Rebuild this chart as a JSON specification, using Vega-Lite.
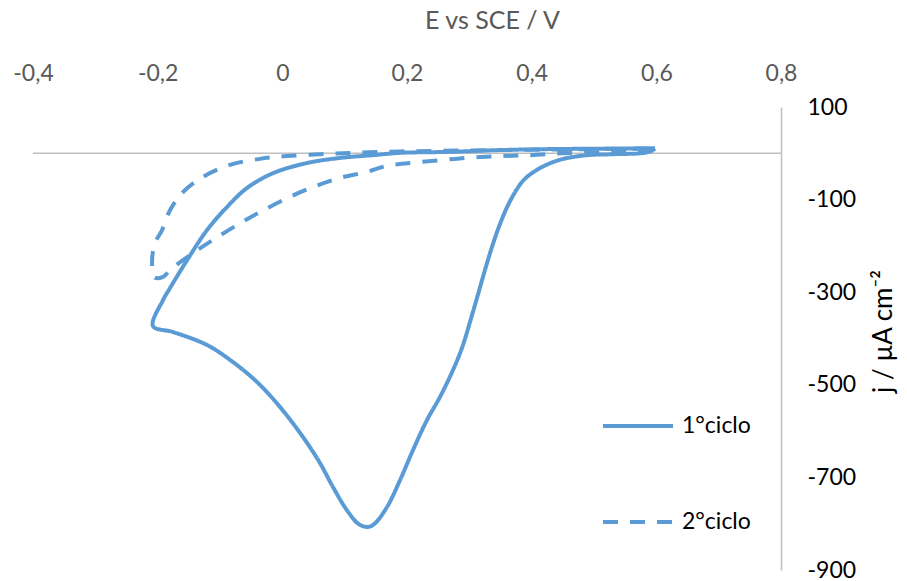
{
  "$schema": "https://vega.github.io/schema/vega-lite/v6.json",
  "width": 748,
  "height": 463,
  "autosize": {"type": "none"},
  "padding": {"left": 33, "top": 107, "right": 126, "bottom": 11},
  "background": "white",
  "config": {"view": {"stroke": null}, "font": "Lato"},
  "layer": [
    {
      "data": {"values": [{}]},
      "mark": {"type": "rule", "color": "#BFBFBF", "strokeWidth": 1.5},
      "encoding": {"y": {"datum": 0, "type": "quantitative"}}
    },
    {
      "data": {"values": [
        {"i": 1, "ciclo": "1°ciclo", "E": 0.598, "j": 10},
        {"i": 2, "ciclo": "1°ciclo", "E": 0.585, "j": 2},
        {"i": 3, "ciclo": "1°ciclo", "E": 0.53, "j": -2},
        {"i": 4, "ciclo": "1°ciclo", "E": 0.489, "j": -4},
        {"i": 5, "ciclo": "1°ciclo", "E": 0.4455, "j": -14},
        {"i": 6, "ciclo": "1°ciclo", "E": 0.4134, "j": -32},
        {"i": 7, "ciclo": "1°ciclo", "E": 0.3871, "j": -58},
        {"i": 8, "ciclo": "1°ciclo", "E": 0.3662, "j": -101},
        {"i": 9, "ciclo": "1°ciclo", "E": 0.3497, "j": -151},
        {"i": 10, "ciclo": "1°ciclo", "E": 0.3364, "j": -202},
        {"i": 11, "ciclo": "1°ciclo", "E": 0.3251, "j": -252},
        {"i": 12, "ciclo": "1°ciclo", "E": 0.3145, "j": -302},
        {"i": 13, "ciclo": "1°ciclo", "E": 0.3033, "j": -354},
        {"i": 14, "ciclo": "1°ciclo", "E": 0.2888, "j": -418},
        {"i": 15, "ciclo": "1°ciclo", "E": 0.2738, "j": -468},
        {"i": 16, "ciclo": "1°ciclo", "E": 0.253, "j": -526},
        {"i": 17, "ciclo": "1°ciclo", "E": 0.2321, "j": -576},
        {"i": 18, "ciclo": "1°ciclo", "E": 0.2096, "j": -641},
        {"i": 19, "ciclo": "1°ciclo", "E": 0.1888, "j": -706},
        {"i": 20, "ciclo": "1°ciclo", "E": 0.1679, "j": -764},
        {"i": 21, "ciclo": "1°ciclo", "E": 0.1480, "j": -800},
        {"i": 22, "ciclo": "1°ciclo", "E": 0.1374, "j": -807},
        {"i": 23, "ciclo": "1°ciclo", "E": 0.1228, "j": -801},
        {"i": 24, "ciclo": "1°ciclo", "E": 0.1037, "j": -771},
        {"i": 25, "ciclo": "1°ciclo", "E": 0.0813, "j": -721},
        {"i": 26, "ciclo": "1°ciclo", "E": 0.0604, "j": -669},
        {"i": 27, "ciclo": "1°ciclo", "E": 0.0332, "j": -613},
        {"i": 28, "ciclo": "1°ciclo", "E": -0.0037, "j": -548},
        {"i": 29, "ciclo": "1°ciclo", "E": -0.0406, "j": -494},
        {"i": 30, "ciclo": "1°ciclo", "E": -0.0791, "j": -451},
        {"i": 31, "ciclo": "1°ciclo", "E": -0.1209, "j": -414},
        {"i": 32, "ciclo": "1°ciclo", "E": -0.1754, "j": -386},
        {"i": 33, "ciclo": "1°ciclo", "E": -0.2075, "j": -373},
        {"i": 34, "ciclo": "1°ciclo", "E": -0.1914, "j": -317},
        {"i": 35, "ciclo": "1°ciclo", "E": -0.1802, "j": -291},
        {"i": 36, "ciclo": "1°ciclo", "E": -0.1529, "j": -231},
        {"i": 37, "ciclo": "1°ciclo", "E": -0.1209, "j": -166},
        {"i": 38, "ciclo": "1°ciclo", "E": -0.0888, "j": -116},
        {"i": 39, "ciclo": "1°ciclo", "E": -0.0567, "j": -75},
        {"i": 40, "ciclo": "1°ciclo", "E": -0.015, "j": -43},
        {"i": 41, "ciclo": "1°ciclo", "E": 0.0396, "j": -21},
        {"i": 42, "ciclo": "1°ciclo", "E": 0.0925, "j": -10},
        {"i": 43, "ciclo": "1°ciclo", "E": 0.1455, "j": -4},
        {"i": 44, "ciclo": "1°ciclo", "E": 0.1888, "j": 1},
        {"i": 45, "ciclo": "1°ciclo", "E": 0.2642, "j": 3},
        {"i": 46, "ciclo": "1°ciclo", "E": 0.3492, "j": 7},
        {"i": 47, "ciclo": "1°ciclo", "E": 0.4246, "j": 9},
        {"i": 48, "ciclo": "1°ciclo", "E": 0.5096, "j": 10},
        {"i": 49, "ciclo": "1°ciclo", "E": 0.598, "j": 11},
        {"i": 1, "ciclo": "2°ciclo", "E": 0.595, "j": 6},
        {"i": 2, "ciclo": "2°ciclo", "E": 0.5305, "j": 3},
        {"i": 3, "ciclo": "2°ciclo", "E": 0.4503, "j": 0},
        {"i": 4, "ciclo": "2°ciclo", "E": 0.3973, "j": -4},
        {"i": 5, "ciclo": "2°ciclo", "E": 0.3171, "j": -8},
        {"i": 6, "ciclo": "2°ciclo", "E": 0.2209, "j": -19},
        {"i": 7, "ciclo": "2°ciclo", "E": 0.1679, "j": -27},
        {"i": 8, "ciclo": "2°ciclo", "E": 0.1358, "j": -40},
        {"i": 9, "ciclo": "2°ciclo", "E": 0.0925, "j": -53},
        {"i": 10, "ciclo": "2°ciclo", "E": 0.0492, "j": -73},
        {"i": 11, "ciclo": "2°ciclo", "E": 0.0075, "j": -97},
        {"i": 12, "ciclo": "2°ciclo", "E": -0.0358, "j": -127},
        {"i": 13, "ciclo": "2°ciclo", "E": -0.0727, "j": -155},
        {"i": 14, "ciclo": "2°ciclo", "E": -0.1112, "j": -187},
        {"i": 15, "ciclo": "2°ciclo", "E": -0.1481, "j": -220},
        {"i": 16, "ciclo": "2°ciclo", "E": -0.1802, "j": -252},
        {"i": 17, "ciclo": "2°ciclo", "E": -0.1914, "j": -267},
        {"i": 18, "ciclo": "2°ciclo", "E": -0.205, "j": -268},
        {"i": 19, "ciclo": "2°ciclo", "E": -0.209, "j": -235},
        {"i": 20, "ciclo": "2°ciclo", "E": -0.2043, "j": -194},
        {"i": 21, "ciclo": "2°ciclo", "E": -0.193, "j": -166},
        {"i": 22, "ciclo": "2°ciclo", "E": -0.1802, "j": -123},
        {"i": 23, "ciclo": "2°ciclo", "E": -0.1594, "j": -84},
        {"i": 24, "ciclo": "2°ciclo", "E": -0.1273, "j": -51},
        {"i": 25, "ciclo": "2°ciclo", "E": -0.084, "j": -25},
        {"i": 26, "ciclo": "2°ciclo", "E": -0.0358, "j": -12},
        {"i": 27, "ciclo": "2°ciclo", "E": 0.0075, "j": -6},
        {"i": 28, "ciclo": "2°ciclo", "E": 0.0604, "j": -2},
        {"i": 29, "ciclo": "2°ciclo", "E": 0.1134, "j": 1},
        {"i": 30, "ciclo": "2°ciclo", "E": 0.1888, "j": 4},
        {"i": 31, "ciclo": "2°ciclo", "E": 0.3492, "j": 7},
        {"i": 32, "ciclo": "2°ciclo", "E": 0.5096, "j": 9},
        {"i": 33, "ciclo": "2°ciclo", "E": 0.59, "j": 10}
      ]},
      "mark": {"type": "line", "interpolate": "catmull-rom", "color": "#5B9BD5", "strokeWidth": 4, "strokeJoin": "round"},
      "encoding": {
        "x": {
          "field": "E", "type": "quantitative",
          "scale": {"domain": [-0.4, 0.8], "nice": false, "zero": false},
          "axis": {
            "orient": "top", "values": [-0.4, -0.2, 0, 0.2, 0.4, 0.6, 0.8],
            "domain": false, "ticks": false, "tickSize": 0, "grid": false,
            "labelExpr": "replace(toString(datum.value), '.', ',')",
            "labelFont": "Lato", "labelFontSize": 23, "labelColor": "#595959",
            "labelPadding": 27, "labelBaseline": "alphabetic",
            "labelFlush": false, "labelOverlap": false, "labelBound": false,
            "title": "E vs SCE / V", "titleFont": "Lato", "titleFontSize": 25,
            "titleFontWeight": "normal", "titleColor": "#595959",
            "titleX": 459, "titleY": -87, "titleAlign": "center", "titleBaseline": "middle"
          }
        },
        "y": {
          "field": "j", "type": "quantitative",
          "scale": {"domain": [-900, 100], "nice": false, "zero": false},
          "axis": {
            "orient": "right", "values": [100, -100, -300, -500, -700, -900],
            "domain": true, "domainColor": "#BFBFBF", "domainWidth": 1.5,
            "ticks": false, "tickSize": 0, "grid": false,
            "labelExpr": "toString(datum.value)",
            "labelFont": "Lato", "labelFontSize": 23, "labelColor": "#000000",
            "labelAlign": "left", "labelBaseline": "middle", "labelPadding": 26,
            "labelFlush": false, "labelOverlap": false, "labelBound": false,
            "title": "j / µA cm⁻²", "titleFont": "Lato", "titleFontSize": 26,
            "titleFontWeight": "normal", "titleColor": "#000000",
            "titleAngle": 270, "titleX": 102, "titleY": 224,
            "titleAlign": "center", "titleBaseline": "middle"
          }
        },
        "order": {"field": "i", "type": "quantitative"},
        "strokeDash": {
          "field": "ciclo", "type": "nominal",
          "scale": {"domain": ["1°ciclo", "2°ciclo"], "range": [[1, 0], [15, 12]]},
          "legend": {
            "orient": "none", "legendX": 568, "legendY": 282, "title": null,
            "symbolType": "stroke", "symbolSize": 4900, "symbolStrokeWidth": 4,
            "symbolStrokeColor": "#5B9BD5",
            "labelFont": "Lato", "labelFontSize": 23, "labelColor": "#000000",
            "labelOffset": 7, "rowPadding": 47
          }
        }
      }
    }
  ]
}
